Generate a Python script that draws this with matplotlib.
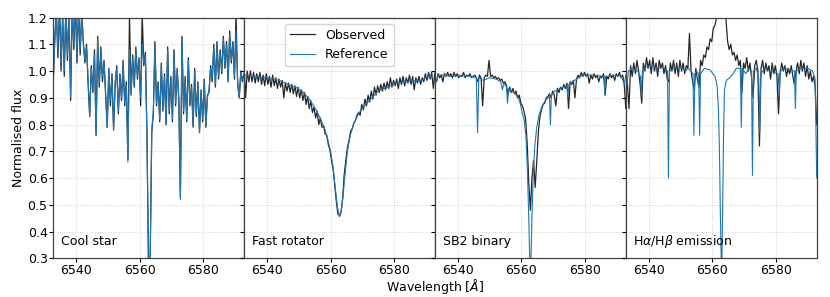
"""
Four-panel comparison of observed vs reference spectra around H-alpha.
Values were read off the reference picture by eye.
"""

import matplotlib
matplotlib.use("Agg")
import matplotlib.pyplot as plt
import numpy as np

# ─── data ────────────────────────────────────────────────────────────────────

# common 0.5 A grid used by the noisy series (H-alpha +/- 30 A)
GRID = np.arange(6532.8, 6592.81, 0.5)

PANEL_LABELS = ["Cool star", "Fast rotator", "SB2 binary",
                r"H$\alpha$/H$\beta$ emission"]

# Cool star
cool_ref = [
    0.95, 1.10, 1.22, 1.08, 1.25, 1.03, 1.20, 1.00, 1.24, 1.06,
    1.22, 0.90, 1.25, 1.10, 1.26, 1.05, 1.24, 1.08, 1.22, 1.10,
    1.04, 1.09, 0.97, 0.83, 1.01, 0.93, 1.06, 0.76, 1.12, 0.95,
    1.08, 0.98, 1.03, 0.92, 0.79, 1.00, 0.89, 0.98, 0.78, 0.96,
    1.01, 0.85, 0.98, 0.90, 1.03, 0.88, 0.95, 0.66, 1.08, 0.92,
    1.05, 0.95, 1.08, 0.98, 1.04, 0.90, 1.10, 1.03, 1.06, 0.75,
    0.25, 0.28, 0.78, 0.85, 1.10, 0.88, 0.95, 0.82, 1.02, 0.86,
    0.98, 0.80, 1.08, 0.85, 0.97, 0.82, 1.07, 0.88, 1.00, 0.90,
    0.52, 1.12, 0.85, 0.97, 0.82, 1.04, 0.88, 0.94, 0.80, 1.00,
    0.84, 0.95, 0.77, 0.92, 0.82, 0.96, 0.80, 0.90, 0.93, 1.01,
    0.97, 1.09, 0.95, 1.10, 0.98, 1.07, 1.00, 1.12, 1.02, 1.10,
    0.97, 1.14, 1.04, 1.10, 0.98, 1.15, 0.96, 0.90, 1.00, 0.97,
    0.99,
]
cool_obs = [
    0.94, 1.12, 1.23, 1.05, 1.25, 1.00, 1.22, 0.98, 1.24, 1.04,
    1.22, 0.89, 1.25, 1.08, 1.26, 1.03, 1.24, 1.06, 1.22, 1.11,
    1.03, 1.10, 0.95, 0.83, 1.02, 0.92, 1.08, 0.76, 1.13, 0.94,
    1.09, 0.96, 1.04, 0.91, 0.79, 1.01, 0.87, 0.99, 0.78, 0.95,
    1.02, 0.84, 0.99, 0.89, 1.04, 0.87, 0.96, 0.67, 1.21, 0.91,
    1.06, 0.94, 1.09, 0.97, 1.05, 0.87, 1.21, 1.02, 1.07, 0.76,
    0.26, 0.30, 0.77, 0.84, 1.11, 0.87, 0.96, 0.81, 1.03, 0.85,
    0.99, 0.80, 1.09, 0.84, 0.98, 0.81, 1.08, 0.87, 1.01, 0.89,
    0.53, 1.13, 0.84, 0.98, 0.81, 1.05, 0.87, 0.95, 0.79, 1.01,
    0.83, 0.96, 0.77, 0.93, 0.81, 0.97, 0.79, 0.91, 0.92, 1.02,
    0.96, 1.10, 0.94, 1.11, 0.97, 1.08, 0.99, 1.13, 1.01, 1.11,
    0.96, 1.15, 1.03, 1.11, 0.97, 1.21, 0.95, 0.90, 1.00, 0.96,
    0.99,
]

# Fast rotator: smooth reference, noisy observation
fast_ref_wave = [6532.8, 6535.0, 6538.0, 6541.0, 6544.0, 6546.0, 6547.5,
                 6549.0, 6551.0, 6553.0, 6555.0, 6556.5, 6558.0, 6559.0,
                 6560.0, 6560.8, 6561.5, 6562.2, 6562.8, 6563.3, 6563.9,
                 6564.6, 6565.3, 6566.2, 6567.5, 6569.0, 6571.0, 6573.0,
                 6575.0, 6578.0, 6581.0, 6584.0, 6586.0, 6588.0, 6590.0,
                 6591.5, 6592.8]
fast_ref_flux = [0.985, 0.982, 0.978, 0.973, 0.965, 0.955, 0.945,
                 0.940, 0.925, 0.900, 0.865, 0.830, 0.790, 0.750,
                 0.700, 0.640, 0.560, 0.490, 0.455, 0.470, 0.530,
                 0.620, 0.700, 0.760, 0.810, 0.845, 0.875, 0.900,
                 0.925, 0.940, 0.955, 0.960, 0.965, 0.962, 0.975,
                 0.980, 0.965]
fast_obs = [
    1.02, 0.90, 1.00, 0.96, 1.00, 0.96, 0.995, 0.955, 0.99, 0.96,
    0.995, 0.95, 0.985, 0.945, 0.99, 0.95, 0.98, 0.94, 0.985, 0.945,
    0.975, 0.935, 0.97, 0.94, 0.965, 0.90, 0.955, 0.925, 0.955, 0.92,
    0.95, 0.915, 0.945, 0.905, 0.94, 0.90, 0.93, 0.89, 0.92, 0.875,
    0.905, 0.86, 0.89, 0.845, 0.865, 0.825, 0.85, 0.80, 0.825, 0.79,
    0.795, 0.765, 0.76, 0.725, 0.705, 0.665, 0.635, 0.575, 0.515, 0.465,
    0.46, 0.475, 0.525, 0.615, 0.665, 0.715, 0.74, 0.775, 0.785, 0.805,
    0.815, 0.835, 0.845, 0.835, 0.875, 0.855, 0.895, 0.87, 0.91, 0.885,
    0.925, 0.895, 0.94, 0.91, 0.945, 0.92, 0.95, 0.925, 0.955, 0.93,
    0.96, 0.935, 0.975, 0.94, 0.965, 0.945, 0.97, 0.935, 0.975, 0.95,
    0.98, 0.945, 0.975, 0.955, 0.985, 0.95, 0.98, 0.93, 0.975, 0.955,
    0.98, 0.95, 0.975, 0.96, 0.99, 0.965, 0.995, 0.97, 0.995, 0.935,
    0.995,
]

# SB2 binary: single-star reference, doubled observed core
sb2_ref_wave = [6532.8, 6533.3, 6533.8, 6535.5, 6538.0, 6541.0, 6544.0,
                6545.8, 6546.2, 6546.6, 6548.0, 6550.0, 6552.0, 6553.5,
                6554.0, 6554.5, 6555.3, 6555.6, 6556.0, 6557.0, 6558.0,
                6559.0, 6559.7, 6560.2, 6560.8, 6561.4, 6561.9, 6562.3,
                6562.6, 6562.8, 6563.0, 6563.3, 6563.7, 6564.2, 6564.8,
                6565.5, 6566.5, 6567.5, 6568.8, 6569.1, 6569.4, 6570.5,
                6572.0, 6574.3, 6574.6, 6574.9, 6576.0, 6578.0, 6579.0,
                6582.0, 6586.0, 6586.2, 6586.4, 6589.0, 6591.5, 6592.3,
                6592.8]
sb2_ref_flux = [0.985, 0.960, 0.985, 0.985, 0.980, 0.982, 0.980,
                0.975, 0.770, 0.975, 0.965, 0.975, 0.970, 0.960,
                0.930, 0.955, 0.940, 0.880, 0.935, 0.925, 0.915,
                0.900, 0.875, 0.845, 0.820, 0.760, 0.620, 0.450,
                0.300, 0.220, 0.300, 0.450, 0.620, 0.720, 0.790,
                0.835, 0.870, 0.890, 0.905, 0.800, 0.910, 0.925,
                0.935, 0.945, 0.900, 0.950, 0.960, 0.975, 0.985,
                0.985, 0.980, 0.910, 0.980, 0.985, 0.980, 0.950,
                0.985]
sb2_obs = [
    0.98, 0.96, 0.99, 0.975, 0.985, 0.96, 0.99, 0.98, 0.995, 0.98,
    0.99, 0.975, 0.995, 0.98, 0.99, 0.975, 0.985, 0.98, 0.995, 0.975,
    0.985, 0.98, 0.99, 0.975, 0.98, 0.985, 0.975, 0.96, 0.985, 0.975,
    0.87, 0.975, 0.985, 0.98, 1.04, 0.98, 0.985, 0.975, 0.98, 0.97,
    0.975, 0.965, 0.97, 0.955, 0.96, 0.945, 0.91, 0.94, 0.92, 0.935,
    0.915, 0.925, 0.90, 0.91, 0.88, 0.87, 0.85, 0.82, 0.73, 0.58,
    0.48, 0.60, 0.665, 0.565, 0.66, 0.77, 0.83, 0.855, 0.875, 0.88,
    0.90, 0.905, 0.915, 0.90, 0.925, 0.91, 0.87, 0.935, 0.92, 0.94,
    0.93, 0.95, 0.935, 0.955, 0.86, 0.96, 0.95, 0.965, 0.90, 0.97,
    0.985, 0.975, 0.995, 0.98, 0.995, 0.98, 0.99, 0.955, 0.985, 0.97,
    0.99, 0.975, 0.985, 0.96, 0.98, 0.975, 0.99, 0.91, 0.98, 0.97,
    0.99, 0.975, 0.985, 0.965, 0.99, 0.98, 0.995, 0.975, 0.985, 0.95,
    0.86,
]

# H-alpha emission: absorption-line reference, emission in the observation
em_ref_wave = [6532.8, 6533.2, 6533.6, 6535.0, 6536.5, 6537.4, 6537.7,
               6538.0, 6539.0, 6541.0, 6543.0, 6544.5, 6545.9, 6546.2,
               6546.5, 6548.0, 6550.0, 6551.5, 6552.5, 6553.9, 6554.2,
               6554.5, 6555.0, 6555.7, 6556.0, 6556.3, 6557.5, 6559.2,
               6560.2, 6560.8, 6561.5, 6561.9, 6562.2, 6562.5, 6562.9,
               6563.2, 6563.5, 6563.8, 6564.4, 6565.5, 6566.5, 6567.5,
               6568.8, 6569.1, 6569.4, 6570.5, 6571.5, 6572.3, 6572.6,
               6572.9, 6573.8, 6574.6, 6574.9, 6575.2, 6576.5, 6578.0,
               6580.7, 6581.0, 6581.3, 6583.0, 6585.8, 6586.1, 6586.4,
               6588.0, 6590.0, 6591.5, 6592.3, 6592.8]
em_ref_flux = [1.000, 0.950, 1.000, 1.010, 1.000, 0.980, 0.910,
               1.000, 1.015, 1.020, 1.010, 1.015, 1.000, 0.600,
               1.000, 1.010, 1.015, 1.000, 1.010, 0.990, 0.760,
               0.990, 1.000, 0.990, 0.760, 0.990, 1.010, 1.005,
               0.990, 0.980, 0.945, 0.860, 0.720, 0.480, 0.220,
               0.450, 0.750, 0.930, 0.965, 0.975, 0.990, 1.010,
               1.010, 0.790, 1.010, 0.990, 1.010, 1.000, 0.610,
               1.000, 1.010, 0.970, 0.770, 0.990, 1.010, 1.000,
               0.990, 0.910, 1.000, 1.010, 1.000, 0.860, 1.000,
               1.010, 1.010, 1.000, 0.970, 0.600]
em_obs = [
    0.99, 0.95, 0.86, 1.02, 0.98, 1.03, 0.99, 1.04, 1.00, 0.95,
    0.88, 1.03, 1.00, 1.05, 1.01, 1.04, 0.99, 1.05, 1.00, 1.03,
    0.98, 1.04, 1.01, 1.03, 0.99, 1.02, 0.97, 0.96, 1.03, 1.00,
    1.04, 0.99, 1.03, 0.98, 1.04, 1.00, 1.03, 0.99, 1.02, 1.01,
    1.14, 1.00, 0.96, 0.93, 1.01, 0.97, 0.94, 1.04, 1.02, 1.06,
    1.05, 1.09, 1.08, 1.12, 1.11, 1.16, 1.17, 1.20, 1.24, 1.28,
    1.30, 1.29, 1.25, 1.19, 1.11, 1.08, 1.10, 1.06, 1.07, 1.04,
    1.06, 1.02, 1.04, 0.92, 1.03, 1.01, 1.05, 1.00, 1.03, 0.98,
    0.90, 1.02, 1.04, 1.00, 0.72, 1.01, 1.04, 0.99, 1.03, 1.00,
    1.02, 0.97, 1.03, 0.99, 1.02, 0.98, 0.84, 0.99, 1.03, 1.00,
    1.02, 0.98, 1.01, 0.99, 1.02, 0.98, 0.95, 1.00, 1.03, 0.99,
    1.04, 1.00, 1.03, 0.98, 1.02, 0.97, 1.00, 0.96, 0.98, 0.94,
    0.80,
]

OBS = [(GRID, cool_obs), (GRID, fast_obs), (GRID, sb2_obs), (GRID, em_obs)]
REF = [(GRID, cool_ref), (fast_ref_wave, fast_ref_flux),
       (sb2_ref_wave, sb2_ref_flux), (em_ref_wave, em_ref_flux)]

# ─── figure ──────────────────────────────────────────────────────────────────

plt.rcParams["font.size"] = 9

fig = plt.figure(figsize=(8.3, 2.97), dpi=100)
axes = fig.subplots(1, 4, sharey=True, gridspec_kw=dict(wspace=0))
fig.subplots_adjust(left=0.064, right=0.984, top=0.941, bottom=0.13)

for ax, label, (ow, of), (rw, rf) in zip(axes, PANEL_LABELS, OBS, REF):
    ax.plot(ow, of, color="black", lw=0.9, alpha=0.85, label="Observed")
    ax.plot(rw, rf, color="#1f77b4", lw=0.8, label="Reference")
    ax.set_xlim(6532.8, 6592.8)
    ax.set_ylim(0.3, 1.2)
    ax.set_xticks([6540, 6560, 6580])
    ax.set_yticks(np.arange(0.3, 1.21, 0.1))
    ax.grid(True, color="0.78", lw=0.6, ls=":")
    ax.tick_params(labelsize=9, length=3, width=0.8, pad=1.0)
    for sp in ax.spines.values():
        sp.set_color("0.25")
        sp.set_linewidth(0.9)
    ax.text(0.04, 0.055, label, transform=ax.transAxes, fontsize=9,
            ha="left", va="baseline")

axes[0].set_ylabel("Normalised flux", fontsize=9, labelpad=2)
axes[1].legend(loc="upper center", fontsize=9, handlelength=2.0,
               borderaxespad=0.5)
fig.text(0.524, 0.003, r"Wavelength [$\AA$]", ha="center", va="bottom",
         fontsize=9)

fig.savefig("out.png", dpi=100)
